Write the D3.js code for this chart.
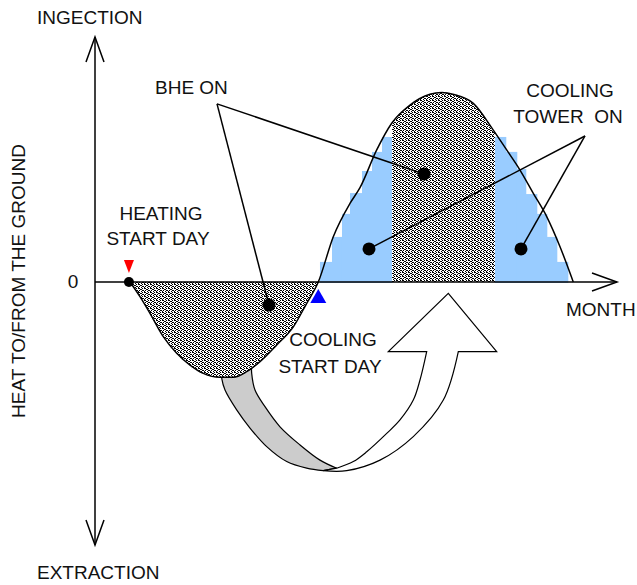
<!DOCTYPE html>
<html>
<head>
<meta charset="utf-8">
<script src="https://cdn.jsdelivr.net/npm/d3@7/dist/d3.min.js"></script>
<style>
  html, body { margin: 0; padding: 0; background: #fff; }
  svg { display: block; }
  text { font-family: "Liberation Sans", Arial, sans-serif; font-size: 19px; fill: #111; }
</style>
</head>
<body>
<svg id="chart" width="637" height="585"></svg>
<script>
// ---------- DATA (schematic units: x = months, y = relative heat flow) ----------
const curveMonth = [0.805, 1.034, 1.264, 1.570, 1.878, 2.184, 2.490, 2.874, 3.179, 3.487, 3.793, 4.177, 4.559, 4.867, 5.133,
                    5.478, 5.862, 6.092, 6.476, 6.821, 7.241, 7.700, 7.970, 8.250, 8.697, 9.156, 9.464, 9.770, 10.076, 10.384, 10.690, 10.995];
const curveValue = [0, -0.060, -0.128, -0.223, -0.291, -0.339, -0.373, -0.389, -0.389, -0.366, -0.325, -0.257, -0.183, -0.087, 0,
                    0.185, 0.321, 0.385, 0.539, 0.648, 0.722, 0.766, 0.773, 0.765, 0.729, 0.620, 0.539, 0.457, 0.362, 0.267, 0.144, 0];

// cooling tower bars (stepped)
const barStart = [5.172, 5.448, 5.678, 5.862, 6.138, 6.368, 6.598, 9.195, 9.448, 9.701, 9.908, 10.161, 10.391, 10.621];
const barEnd   = [5.448, 5.678, 5.862, 6.138, 6.368, 6.598, 6.828, 9.448, 9.701, 9.908, 10.161, 10.391, 10.621, 10.874];
const barValue = [0.082, 0.184, 0.278, 0.363, 0.453, 0.531, 0.592, 0.592, 0.531, 0.461, 0.359, 0.278, 0.184, 0.082];

// BHE-only band in the cooling season
const bheBand = [6.828, 9.195];

const heatingStart = 0.78;
const coolingStart = 5.133;

// callouts: vertex and target dots
const bheCallout = { vx: 2.805, vy: 0.727, dots: [[4.0, -0.094], [7.563, 0.441]] };
const ctCallout  = { vx: 11.264, vy: 0.596, dots: [[6.299, 0.135], [9.793, 0.135]] };

// big seasonal transfer arrow outline
const greyOuter = [[2.90, -0.36], [2.913, -0.393], [2.989, -0.441], [3.257, -0.522], [3.563, -0.596], [3.947, -0.672], [4.407, -0.733], [4.867, -0.760], [5.248, -0.770]];
const greyInner = [[5.556, -0.760], [5.172, -0.727], [4.713, -0.665], [4.253, -0.591], [3.908, -0.509], [3.678, -0.441], [3.602, -0.373], [3.60, -0.34]];
const whiteOuter = [[5.248, -0.770], [5.786, -0.770], [6.552, -0.727], [7.317, -0.631], [8.007, -0.482], [8.352, -0.284]];
const arrowHead  = [[9.234, -0.284], [8.122, -0.046], [6.743, -0.284]];
const whiteInner = [[7.625, -0.284], [7.471, -0.400], [7.317, -0.482], [7.011, -0.563], [6.706, -0.618], [6.246, -0.693], [5.938, -0.733], [5.556, -0.760]];

// ---------- SCALES ----------
const yMin = -263 / 245;
const x = d3.scaleLinear().domain([0, 12]).range([95, 617]);
const y = d3.scaleLinear().domain([yMin, 1]).range([545, 37]);

const svg = d3.select("#chart");

// stipple pattern
const defs = svg.append("defs");
const pat = defs.append("pattern").attr("id", "stipple").attr("patternUnits", "userSpaceOnUse")
  .attr("width", 6).attr("height", 4);
pat.append("rect").attr("width", 6).attr("height", 4).attr("fill", "#fff");
[[0,0,2,1],[4,0,1,1],[2,1,2,1],[4,2,2,1],[1,2,1,1],[0,3,1,1],[3,3,1,1]].forEach(r =>
  pat.append("rect").attr("x", r[0]).attr("y", r[1]).attr("width", r[2]).attr("height", r[3]).attr("fill", "#000"));

defs.append("clipPath").attr("id", "bandClip").append("rect")
  .attr("x", x(bheBand[0])).attr("width", x(bheBand[1]) - x(bheBand[0]))
  .attr("y", 0).attr("height", y(0) + 1);

const pts = curveMonth.map((m, i) => [m, curveValue[i]]);
const negPts = pts.filter(p => p[0] <= coolingStart + 1e-9);
const posPts = pts.filter(p => p[0] >= coolingStart - 1e-9);

// ---------- seasonal arrow ----------
const edge = d3.line().x(d => x(d[0])).y(d => y(d[1])).curve(d3.curveCatmullRom);
const poly = d3.line().x(d => x(d[0])).y(d => y(d[1]));
const join = (s) => s.replace(/^M/, "L");

svg.append("path")
  .attr("d", edge(greyOuter) + join(poly([greyOuter[greyOuter.length-1], greyInner[0]])) + join(edge(greyInner)) + "Z")
  .attr("fill", "#cccccc").attr("stroke", "#000").attr("stroke-width", 1.2).attr("stroke-linejoin", "round");

svg.append("path")
  .attr("d", edge(whiteOuter) + join(poly([whiteOuter[whiteOuter.length-1], ...arrowHead, whiteInner[0]])) + join(edge(whiteInner)) + "Z")
  .attr("fill", "#fff").attr("stroke", "#000").attr("stroke-width", 1.2).attr("stroke-linejoin", "miter");

// ---------- fills ----------
const area = d3.area().x(d => x(d[0])).y0(y(0)).y1(d => y(d[1])).curve(d3.curveMonotoneX);

svg.append("path").attr("d", area(negPts)).attr("fill", "url(#stipple)");

svg.append("g").selectAll("rect").data(barValue).join("rect")
  .attr("x", (d, i) => x(barStart[i]))
  .attr("width", (d, i) => x(barEnd[i]) - x(barStart[i]) + 0.3)
  .attr("y", d => y(d))
  .attr("height", d => y(0) - y(d) + 1)
  .attr("fill", "#99ccff");

svg.append("path").attr("d", area(posPts)).attr("fill", "url(#stipple)").attr("clip-path", "url(#bandClip)");

// ---------- curve ----------
svg.append("path")
  .attr("d", d3.line().x(d => x(d[0])).y(d => y(d[1])).curve(d3.curveMonotoneX)(pts))
  .attr("fill", "none").attr("stroke", "#000").attr("stroke-width", 1.5);

// ---------- axes ----------
const ax = svg.append("g").attr("stroke", "#000").attr("stroke-width", 1.5).attr("fill", "none");
ax.append("line").attr("x1", x(0)).attr("x2", x(0)).attr("y1", y(1)).attr("y2", y(yMin));
ax.append("line").attr("x1", x(0)).attr("x2", x(12)).attr("y1", y(0)).attr("y2", y(0));
ax.append("polyline").attr("points", [[x(0)-9, y(1)+25], [x(0), y(1)], [x(0)+9, y(1)+25]].join(" "));
ax.append("polyline").attr("points", [[x(0)-9, y(yMin)-25], [x(0), y(yMin)], [x(0)+9, y(yMin)-25]].join(" "));
ax.append("polyline").attr("points", [[x(12)-25, y(0)-9], [x(12), y(0)], [x(12)-25, y(0)+9]].join(" "));

// ---------- markers ----------
svg.append("path")
  .attr("d", `M${x(heatingStart)-5},${y(0)-22} L${x(heatingStart)+5},${y(0)-22} L${x(heatingStart)},${y(0)-9} Z`)
  .attr("fill", "#ff0000");
svg.append("circle").attr("cx", x(heatingStart)).attr("cy", y(0)).attr("r", 5).attr("fill", "#000");
svg.append("path")
  .attr("d", `M${x(coolingStart)-8},${y(0)+21} L${x(coolingStart)+8},${y(0)+21} L${x(coolingStart)},${y(0)+7} Z`)
  .attr("fill", "#0000ff");

// ---------- callouts ----------
[bheCallout, ctCallout].forEach(c => {
  c.dots.forEach(d => {
    svg.append("line").attr("x1", x(c.vx)).attr("y1", y(c.vy)).attr("x2", x(d[0])).attr("y2", y(d[1]))
      .attr("stroke", "#000").attr("stroke-width", 1.5);
  });
  c.dots.forEach(d => {
    svg.append("circle").attr("cx", x(d[0])).attr("cy", y(d[1])).attr("r", 6.5).attr("fill", "#000");
  });
});

// ---------- texts ----------
const T = (tx, ty, s, anchor) => svg.append("text").attr("x", tx).attr("y", ty)
  .attr("text-anchor", anchor || "start").style("white-space", "pre").text(s);

T(37, 24, "INGECTION");
T(37, 579, "EXTRACTION");
T(73, 288, "0", "middle");
T(566, 316, "MONTH");
T(155, 94, "BHE ON");
T(161, 220, "HEATING", "middle");
T(158, 245, "START DAY", "middle");
T(570, 97, "COOLING", "middle");
T(568, 123, "TOWER  ON", "middle");
T(333, 346, "COOLING", "middle");
T(330, 373, "START DAY", "middle");
svg.append("text").attr("transform", "translate(25,281) rotate(-90)")
  .attr("text-anchor", "middle").text("HEAT TO/FROM THE GROUND");
</script>
</body>
</html>
